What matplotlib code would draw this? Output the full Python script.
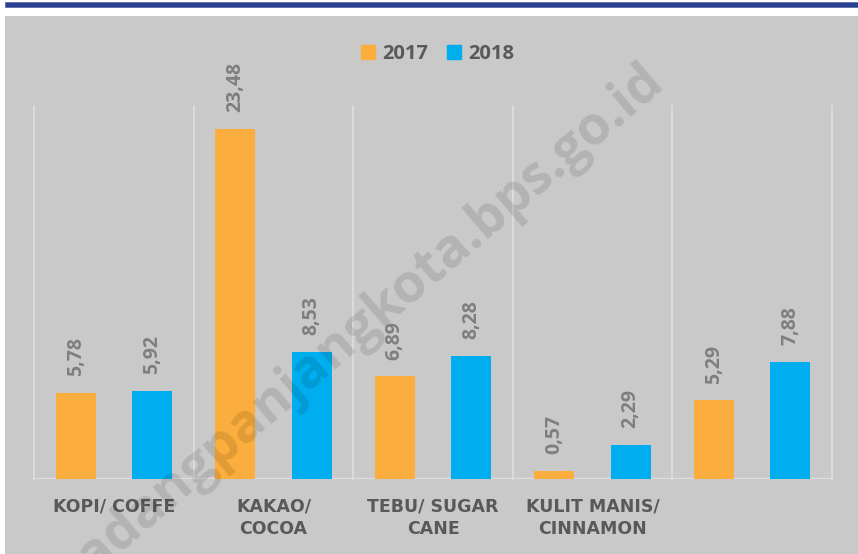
import numpy as np
import matplotlib
matplotlib.use('Agg')
import matplotlib.pyplot as plt
from matplotlib.patches import Rectangle, Patch

# data
categories = ['KOPI/ COFFE', 'KAKAO/\nCOCOA', 'TEBU/ SUGAR\nCANE', 'KULIT MANIS/\nCINNAMON', '']
val_2017 = [5.78, 23.48, 6.89, 0.57, 5.29]
val_2018 = [5.92, 8.53, 8.28, 2.29, 7.88]
series_names = ['2017', '2018']

c_2017 = '#FBAE3E'
c_2018 = '#00AEEF'
bg = '#C9C9C9'
grid_c = '#DEDEDE'

W, H = 858, 554
fig = plt.figure(figsize=(W / 100, H / 100), dpi=100, facecolor='white')

# gray panel + blue strip at the top
fig.patches.append(Rectangle((5 / W, 0), 1, (H - 15.7) / H, transform=fig.transFigure,
                             facecolor=bg, edgecolor='none', zorder=-2))
fig.patches.append(Rectangle((5 / W, 1 - 7.3 / H), 1, 5 / H, transform=fig.transFigure,
                             facecolor='#2A3F8F', edgecolor='#5a6fb0', linewidth=0.6, zorder=-2))

ax = fig.add_axes([34.3 / W, (H - 479.3) / H, (831.7 - 34.3) / W, (479.3 - 106) / H])
ax.set_facecolor('none')

x = np.arange(len(categories))
off, bw = 0.24, 0.253
b1 = ax.bar(x - off, val_2017, bw, color=c_2017, zorder=2)
b2 = ax.bar(x + off, val_2018, bw, color=c_2018, zorder=2)

for bars, vals in [(b1, val_2017), (b2, val_2018)]:
    for rect, v in zip(bars, vals):
        ax.annotate(f'{v:.2f}'.replace('.', ','),
                    xy=(rect.get_x() + rect.get_width() / 2, v),
                    xytext=(0, 12), textcoords='offset points',
                    rotation=90, ha='center', va='bottom',
                    fontsize=14, fontweight='bold', family='Open Sans', color='#7F7F7F')

# category separators and baseline
for xb in np.arange(-0.5, len(categories), 1.0):
    ax.plot([xb, xb], [0, 25], color=grid_c, lw=1.3, zorder=1, clip_on=False)
ax.axhline(0, color=grid_c, lw=1.6, zorder=1)

ax.set_xlim(-0.5, len(categories) - 0.5)
ax.set_ylim(0, 25)
for s in ax.spines.values():
    s.set_visible(False)
ax.set_yticks([])
ax.set_xticks(x)
ax.set_xticklabels(categories, fontsize=12.5, fontweight='bold', family='DejaVu Sans',
                   color='#595959', linespacing=1.3, ha='center')
ax.tick_params(axis='x', length=0, pad=13)

handles = [Patch(color=c_2017), Patch(color=c_2018)]
fig.legend(handles, series_names, loc='center', bbox_to_anchor=(437.7 / W, 1 - 54 / H),
           ncol=2, frameon=False, handlelength=0.67, handleheight=0.67,
           handletextpad=0.36, columnspacing=0.95, labelcolor='#595959',
           prop={'family': 'Open Sans', 'weight': 'bold', 'size': 14.5})

# watermark
fig.text(666 / W, 1 - 84 / H, 'padangpanjangkota.bps.go.id', rotation=40.5,
         rotation_mode='anchor', ha='right', va='baseline', fontsize=38.5,
         fontweight='bold', family='Open Sans', color='black', alpha=0.11, zorder=5)

fig.savefig('out.png', dpi=100, facecolor='white')
